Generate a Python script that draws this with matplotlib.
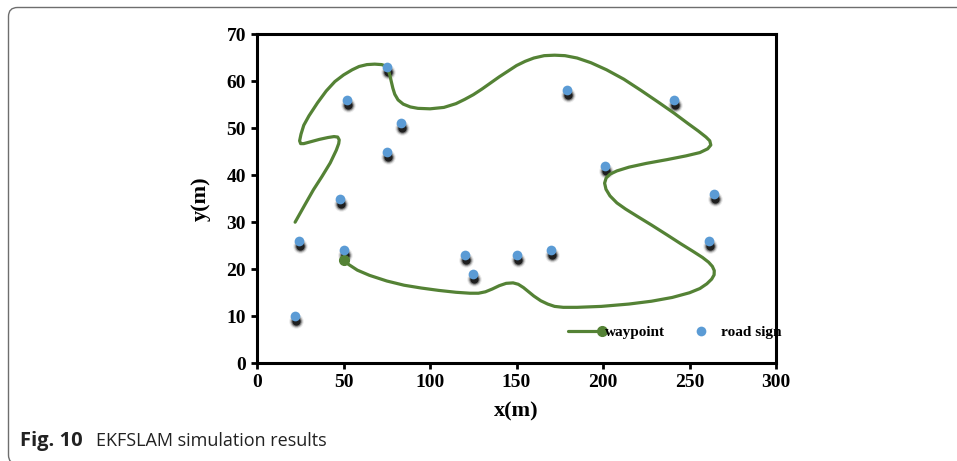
import matplotlib
matplotlib.use('Agg')
import matplotlib.pyplot as plt
import numpy as np
from matplotlib.legend_handler import HandlerLine2D
from matplotlib.patches import FancyBboxPatch
from matplotlib.transforms import ScaledTranslation, IdentityTransform

# Road sign (landmark) positions
sign_x = [22, 24, 48, 50, 52, 75, 75, 83, 120, 125, 150, 170, 179, 201, 241, 261, 264]
sign_y = [10, 26, 35, 24, 56, 63, 45, 51, 23, 19, 23, 24, 58, 42, 56, 26, 36]

# Waypoint path
wp_x = [50, 53, 58, 65, 75, 85, 95, 105, 115, 123, 128, 132, 136, 140, 144, 148,
        151, 154, 157, 160, 164, 168, 172, 177, 185, 199, 215, 228, 240, 250, 256,
        260, 262.8, 264.2, 264.3, 263.2, 261, 257.5, 252, 245, 237, 228, 220, 213,
        208, 204, 201.7, 200.9, 201.8, 204, 208, 215, 225, 237, 248, 256, 260.5,
        262.3, 261.7, 259.5, 255, 249, 241, 232, 222, 212, 202, 193, 185, 178, 172,
        166, 160, 155, 150, 145, 140, 135, 130, 125, 120, 115, 108, 100, 93, 88.6,
        84.5, 81.5, 79.6, 78.5, 77.6, 76.8, 75.8, 74.5, 72, 68, 63.5, 59, 55, 50,
        45, 40, 35, 30, 27, 25.4, 24.6, 25.2, 27, 31, 36, 41, 44.5, 46.6, 47.5,
        47.2, 45.8, 42.3, 37.5, 32.6, 27.5, 22]
wp_y = [22, 21, 19.8, 18.7, 17.5, 16.6, 16, 15.5, 15.1, 14.9, 14.9, 15.2, 15.8,
        16.5, 17, 17.1, 16.8, 16.1, 15.2, 14.3, 13.3, 12.6, 12.1, 11.9, 11.9, 12.1,
        12.6, 13.2, 14, 15, 15.9, 16.9, 17.9, 18.8, 19.7, 20.6, 21.5, 22.5, 23.8,
        25.4, 27.3, 29.4, 31.2, 32.8, 34.1, 35.6, 37, 38.3, 39.4, 40.2, 40.9, 41.7,
        42.5, 43.3, 44.1, 44.8, 45.6, 46.4, 47.3, 48.1, 49.4, 51, 53.2, 55.5, 58,
        60.4, 62.4, 63.9, 64.9, 65.4, 65.5, 65.4, 64.9, 64.2, 63.3, 62.1, 60.9,
        59.6, 58.3, 57.1, 56.1, 55.2, 54.4, 54.1, 54.2, 54.5, 55.1, 56, 57.2, 58.5,
        59.9, 61.2, 62.4, 63.2, 63.5, 63.6, 63.5, 63.1, 62.4, 61.3, 59.9, 57.9,
        55.4, 52.6, 50.6, 48.7, 47.3, 46.7, 46.7, 47.1, 47.6, 48, 48.2, 48.1, 47.5,
        46.7, 45.3, 42.6, 39.7, 36.9, 33.6, 30]

green = '#548235'
blue = '#5B9BD5'


class EndMarker(HandlerLine2D):
    # put the legend marker at the right end of the line
    def create_artists(self, legend, orig_handle, xdescent, ydescent, width,
                       height, fontsize, trans):
        arts = super().create_artists(legend, orig_handle, xdescent, ydescent,
                                      width, height, fontsize, trans)
        arts[0].set_markevery([2])
        return arts


fig = plt.figure(figsize=(9.57, 4.61), dpi=100)
ax = fig.add_axes([0.2686, 0.2119, 0.5423, 0.7143])

# blurred black shadows under the road signs
tr = ax.transData + ScaledTranslation(0.7 / 72, -3.6 / 72, fig.dpi_scale_trans)
for ms, a in [(10.5, 0.08), (9, 0.18), (7.5, 0.35), (6, 0.75)]:
    ax.plot(sign_x, sign_y, 'o', color='k', ms=ms, alpha=a, mec='none',
            transform=tr, zorder=2)

wp_line, = ax.plot(wp_x, wp_y, '-', color=green, lw=2.3, solid_joinstyle='round',
                   solid_capstyle='round', marker='o', markevery=[0], ms=7,
                   zorder=3, label='waypoint')
signs, = ax.plot(sign_x, sign_y, 'o', color=blue, ms=7, mec='none',
                 zorder=4, label='road sign')

ax.set_xlim(0, 300)
ax.set_ylim(0, 70)
ax.set_xticks(np.arange(0, 301, 50))
ax.set_yticks(np.arange(0, 71, 10))

for s in ax.spines.values():
    s.set_linewidth(2.2)
ax.tick_params(direction='out', length=4, width=2, labelsize=14, pad=4)
for lab in ax.get_xticklabels() + ax.get_yticklabels():
    lab.set_fontfamily('Liberation Serif')
    lab.set_fontweight('bold')

ax.set_xlabel('x(m)', fontsize=16, fontweight='bold', family='Liberation Serif', labelpad=7)
ax.set_ylabel('y(m)', fontsize=16, fontweight='bold', family='Liberation Serif', labelpad=11)

leg = ax.legend(handles=[wp_line, signs], handler_map={wp_line: EndMarker()},
                ncol=2, frameon=False, loc='center left',
                bbox_to_anchor=(0.599, 0.095), borderpad=0, borderaxespad=0,
                handlelength=2.2, handletextpad=0.2, columnspacing=1.3,
                prop={'family': 'Liberation Serif', 'weight': 'bold', 'size': 11})

# rounded frame of the figure panel (right and bottom edges fall off the canvas)
frame = FancyBboxPatch((8.5, -3), 962, 456.5, boxstyle='round,pad=0,rounding_size=9',
                       transform=IdentityTransform(), fill=False, ec='#6e6e6e', lw=1.0)
fig.patches.append(frame)

fig.text(20 / 957, 1 - 446 / 461, 'Fig. 10', fontsize=14.5, fontweight='bold',
         family='Open Sans', va='baseline', color='#222222')
fig.text(96 / 957, 1 - 446 / 461, 'EKFSLAM simulation results', fontsize=13,
         family='Open Sans', va='baseline', color='#222222')

fig.savefig('out.png', dpi=100)
